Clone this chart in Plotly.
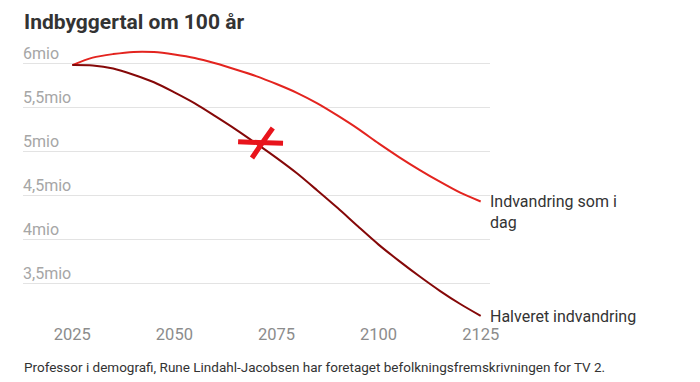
import plotly.graph_objects as go

years = [2025, 2030, 2035, 2040, 2045, 2050, 2055, 2060, 2065, 2070, 2075,
         2080, 2085, 2090, 2095, 2100, 2105, 2110, 2115, 2120, 2125]
same_immigration = [5.98, 6.065, 6.105, 6.13, 6.128, 6.10, 6.06, 6.00, 5.93, 5.855, 5.765,
                    5.665, 5.545, 5.405, 5.255, 5.09, 4.935, 4.79, 4.655, 4.53, 4.43]
halved_immigration = [5.98, 5.975, 5.94, 5.87, 5.785, 5.67, 5.545, 5.40, 5.25, 5.09, 4.925,
                      4.75, 4.555, 4.355, 4.145, 3.94, 3.755, 3.58, 3.415, 3.265, 3.13]
series_names = ["Indvandring som i<br>dag", "Halveret indvandring"]
y_ticks = [3.5, 4, 4.5, 5, 5.5, 6]
y_tick_text = ["3,5mio", "4mio", "4,5mio", "5mio", "5,5mio", "6mio"]
x_ticks = [2025, 2050, 2075, 2100, 2125]

# hand-drawn red cross (data coordinates)
cross_a_x = [2065.6, 2070.5, 2076.6]
cross_a_y = [5.109, 5.100, 5.091]
cross_b_x = [2074.1, 2071.5, 2069.0]
cross_b_y = [5.265, 5.095, 4.924]

RED = "#e3241f"
DARK = "#850808"

fig = go.Figure()
fig.add_trace(go.Scatter(x=years, y=same_immigration, mode="lines",
                         line=dict(color=RED, width=2, shape="spline", smoothing=0.8),
                         hoverinfo="skip", showlegend=False))
fig.add_trace(go.Scatter(x=years, y=halved_immigration, mode="lines",
                         line=dict(color=DARK, width=2, shape="spline", smoothing=0.8),
                         hoverinfo="skip", showlegend=False))
fig.add_trace(go.Scatter(x=cross_a_x, y=cross_a_y, mode="lines",
                         line=dict(color="#e8141c", width=5, shape="spline"),
                         hoverinfo="skip", showlegend=False))
fig.add_trace(go.Scatter(x=cross_b_x, y=cross_b_y, mode="lines",
                         line=dict(color="#e8141c", width=5, shape="spline"),
                         hoverinfo="skip", showlegend=False))

for name, vals in zip(series_names, [same_immigration, halved_immigration]):
    fig.add_annotation(x=years[-1], y=vals[-1], text=name, showarrow=False,
                       xanchor="left", yanchor="top", align="left",
                       xshift=7, yshift=11,
                       font=dict(family="Roboto", size=16, color="#333333"))

# y tick labels sitting above their gridlines, inside the plot
for val, txt in zip(y_ticks, y_tick_text):
    fig.add_annotation(xref="paper", x=0, y=val, text=txt, showarrow=False,
                       xanchor="left", yanchor="middle", xshift=-2, yshift=10,
                       font=dict(family="Roboto", size=16, color="#a6a6a6"))

fig.add_annotation(xref="paper", yref="paper", x=0, y=1, xshift=-1, yshift=18,
                   text="<b>Indbyggertal om 100 år</b>", showarrow=False,
                   xanchor="left", yanchor="middle",
                   font=dict(family="Roboto", size=21, color="#333333"))
fig.add_annotation(xref="paper", yref="paper", x=0, y=0, xshift=-1, yshift=-49,
                   text="Professor i demografi, Rune Lindahl-Jacobsen har foretaget befolkningsfremskrivningen for TV 2.",
                   showarrow=False, xanchor="left", yanchor="middle",
                   font=dict(family="Roboto", size=13.5, color="#333333"))

# page body has an 8px margin; figure sized so it fills the 700x382 window
fig.update_layout(
    width=692, height=374,
    margin=dict(l=15, r=210, t=32, b=64),
    paper_bgcolor="white", plot_bgcolor="white",
    xaxis=dict(range=[2012.93, 2127.28], tickvals=x_ticks, showgrid=False,
               zeroline=False, showline=False, ticks="", ticklabelstandoff=4,
               tickfont=dict(family="Roboto", size=16.5, color="#8c8c8c")),
    yaxis=dict(range=[3.106, 6.265], tickvals=y_ticks, showticklabels=False,
               showgrid=True, gridcolor="#e3e3e3",
               gridwidth=1, zeroline=False, showline=False, ticks=""),
)

fig.write_html("out.html")
